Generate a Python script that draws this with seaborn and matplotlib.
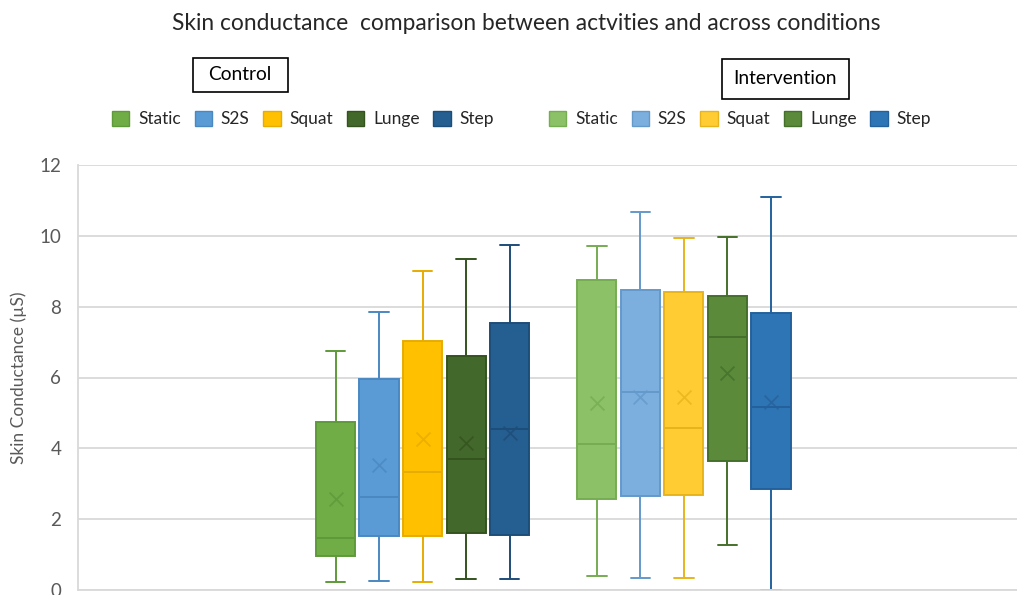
import numpy as np
import pandas as pd
import matplotlib
matplotlib.use("Agg")
import matplotlib.pyplot as plt
import seaborn as sns
from matplotlib.patches import Patch, Rectangle

# ---------------- data ----------------
conditions = ["Control", "Intervention"]
activities = ["Static", "S2S", "Squat", "Lunge", "Step"]

control_min = [0.22, 0.25, 0.22, 0.30, 0.30]
control_q1 = [0.96, 1.53, 1.53, 1.62, 1.55]
control_med = [1.46, 2.64, 3.34, 3.70, 4.54]
control_q3 = [4.73, 5.96, 7.03, 6.61, 7.53]
control_max = [6.75, 7.86, 9.02, 9.34, 9.75]
control_mean = [2.56, 3.53, 4.26, 4.14, 4.44]

interv_min = [0.40, 0.35, 0.35, 1.27, 0.00]
interv_q1 = [2.56, 2.66, 2.69, 3.65, 2.84]
interv_med = [4.12, 5.60, 4.58, 7.13, 5.18]
interv_q3 = [8.74, 8.47, 8.41, 8.31, 7.82]
interv_max = [9.72, 10.67, 9.93, 9.98, 11.11]
interv_mean = [5.27, 5.46, 5.44, 6.14, 5.32]

y_ticks = [0, 2, 4, 6, 8, 10, 12]

# ---------------- styles ----------------
control_fill = ["#70AD47", "#5B9BD5", "#FFC000", "#43682B", "#255E91"]
control_edge = ["#5E9A3A", "#4A88C2", "#E6AC00", "#34531F", "#1D4D79"]
interv_fill = ["#8CC168", "#7CAFDD", "#FFCD33", "#5A8A3A", "#2E75B6"]
interv_edge = ["#76AC52", "#6399CB", "#E8B41C", "#45702B", "#24619C"]

sns.set_theme(style="white")
plt.rcParams['font.family'] = ['Lato', 'DejaVu Sans']

# ---------------- build long data ----------------
stats = {
    "Control": (control_min, control_q1, control_med, control_q3, control_max, control_mean,
                control_fill, control_edge),
    "Intervention": (interv_min, interv_q1, interv_med, interv_q3, interv_max, interv_mean,
                     interv_fill, interv_edge),
}

slots = [f"Control {a}" for a in activities] + ["gap"] + [f"Intervention {a}" for a in activities]

rows, mean_rows = [], []
fill_of, edge_of = {}, {}
for cond in conditions:
    mn, q1, md, q3, mx, me, fl, ed = stats[cond]
    for i, a in enumerate(activities):
        lab = f"{cond} {a}"
        fill_of[lab] = fl[i]
        edge_of[lab] = ed[i]
        for v in (mn[i], q1[i], md[i], q3[i], mx[i]):
            rows.append({"slot": lab, "value": v})
        mean_rows.append({"slot": lab, "value": me[i]})
df = pd.DataFrame(rows)
means = pd.DataFrame(mean_rows)

# ---------------- figure ----------------
W, H = 1017, 595
fig = plt.figure(figsize=(W / 100, H / 100), dpi=100)
ax = fig.add_axes([78 / W, 5 / H, (W - 78) / W, 425 / H])

for lab in slots:
    if lab == "gap":
        continue
    sub = df[df["slot"] == lab]
    sns.boxplot(data=sub, x="slot", y="value", order=slots, color=fill_of[lab],
                linecolor=edge_of[lab], linewidth=1.4, width=0.9, whis=(0, 100),
                saturation=1, showfliers=False, ax=ax)
    sns.stripplot(data=means[means["slot"] == lab], x="slot", y="value", order=slots,
                  jitter=False, marker="x", color=edge_of[lab], size=10, linewidth=1.3,
                  alpha=0.8, ax=ax)

# axes styling
slot_px0, slot_step = 335.5, 43.55
ax.set_xlim((78 - slot_px0) / slot_step, (W - slot_px0) / slot_step)
ax.set_ylim(0, 12)
ax.set_yticks(y_ticks)
ax.set_yticklabels([str(t) for t in y_ticks])
ax.set_xticks([])
ax.set_xlabel("")
ax.set_ylabel("Skin Conductance (µS)", fontsize=12.5, color="#595959", labelpad=9)
ax.tick_params(axis="y", length=0, labelsize=13.5, labelcolor="#595959", pad=12)
ax.yaxis.grid(True, color="#D9D9D9", linewidth=1.3)
ax.set_axisbelow(True)
for s in ["top", "right"]:
    ax.spines[s].set_visible(False)
for s in ["left", "bottom"]:
    ax.spines[s].set_color("#D9D9D9")
    ax.spines[s].set_linewidth(1.3)

# title
fig.text(526 / W, 1 - 24 / H, "Skin conductance  comparison between actvities and across conditions",
         ha="center", va="center", fontsize=16.4, color="#262626")

# condition boxes
fig.add_artist(Rectangle((193 / W, 1 - 92 / H), 95 / W, 34 / H, transform=fig.transFigure,
                         fill=False, edgecolor="black", linewidth=1.2))
fig.text(240 / W, 1 - 75 / H, "Control", ha="center", va="center", fontsize=13.8, color="black")
fig.add_artist(Rectangle((722 / W, 1 - 99 / H), 127 / W, 40 / H, transform=fig.transFigure,
                         fill=False, edgecolor="black", linewidth=1.2))
fig.text(785 / W, 1 - 79 / H, "Intervention", ha="center", va="center", fontsize=13.8, color="black")

# legends
for cond, cx in [("Control", 303), ("Intervention", 740)]:
    fl, ed = stats[cond][6], stats[cond][7]
    handles = [Patch(facecolor=fl[i], edgecolor=ed[i], linewidth=1.0) for i in range(len(activities))]
    fig.legend(handles=handles, labels=activities, ncol=5, loc="center",
               bbox_to_anchor=(cx / W, 1 - 119 / H), frameon=False, fontsize=12.5,
               handlelength=1.0, handleheight=1.0, handletextpad=0.5, columnspacing=0.8,
               labelcolor="#262626")

fig.savefig("out.png", dpi=100)
